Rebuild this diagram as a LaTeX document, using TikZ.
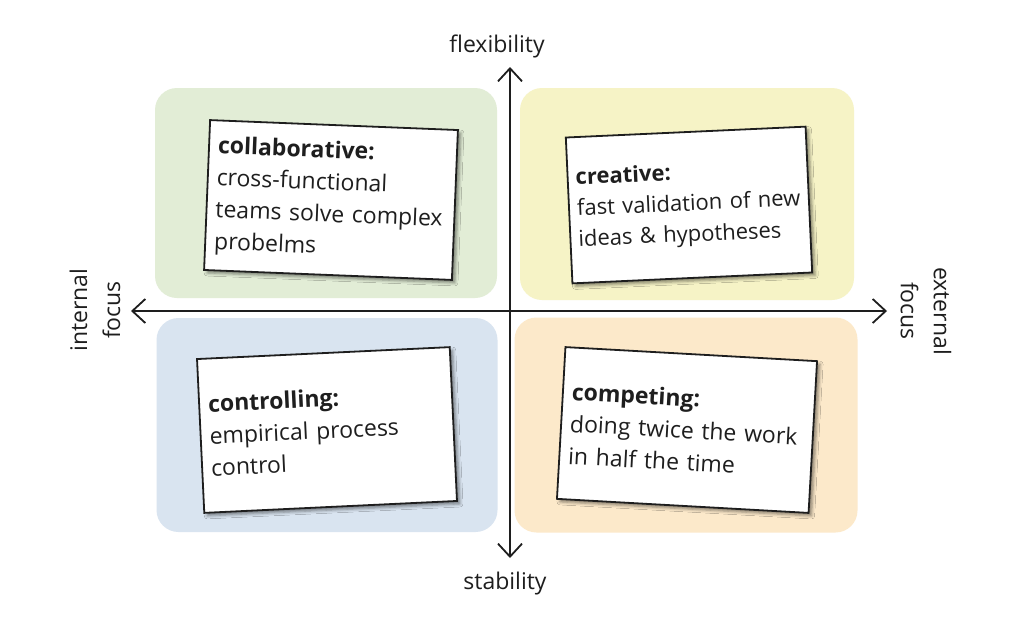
\documentclass[tikz,border=0pt]{standalone}
\usepackage{fontspec}
\setmainfont{Open Sans}
\usetikzlibrary{arrows.meta,shadows.blur}
\definecolor{qgreen}{RGB}{226,237,214}
\definecolor{qyellow}{RGB}{246,243,198}
\definecolor{qblue}{RGB}{217,228,240}
\definecolor{qorange}{RGB}{252,233,202}
\definecolor{ink}{RGB}{30,30,30}
\begin{document}
\begin{tikzpicture}[x=1pt,y=-1pt,
  quad/.style={rectangle, rounded corners=22pt, draw=none, inner sep=0pt},
  card/.style={rectangle, draw=ink, line width=1.8pt, fill=white, align=left,
    inner xsep=9pt, inner ysep=4pt, font=\fontsize{23}{32}\selectfont, text=ink,
    blur shadow={shadow xshift=3pt, shadow yshift=-3pt, shadow blur radius=3pt, shadow opacity=45}},
  axis/.style={draw=ink, line width=1.8pt,
    {Straight Barb[length=13pt,width=24pt]}-{Straight Barb[length=13pt,width=24pt]}},
  lbl/.style={font=\fontsize{23}{33}\selectfont, text=ink, align=center, inner sep=0pt}]
\useasboundingbox (0,0) rectangle (1024,624);
\fill[white] (0,0) rectangle (1024,624);

% quadrant backgrounds
\node[quad, fill=qgreen,  minimum width=342pt, minimum height=210pt] (qgr) at (326,193) {};
\node[quad, fill=qyellow, minimum width=334pt, minimum height=212pt] (qye) at (687,194) {};
\node[quad, fill=qblue,   minimum width=341pt, minimum height=214pt] (qbl) at (327,425) {};
\node[quad, fill=qorange, minimum width=343pt, minimum height=215pt] (qor) at (686,425) {};

% axes
\coordinate (top) at (510,67);
\coordinate (bottom) at (510,558);
\coordinate (left) at (131,311);
\coordinate (right) at (887,311);
\draw[axis] (bottom) -- (top);
\draw[axis] (left) -- (right);

% axis labels
\node[lbl] (flex) at (497,46) {flexibility};
\node[lbl] (stab) at (505,584) {stability};
\node[lbl, rotate=90] (intf) at (95,310) {internal\\focus};
\node[lbl, rotate=-90] (extf) at (926,311) {external\\focus};

% cards
\node[card, rotate=-2.3, text width=230pt, minimum height=150pt] (collab) at (331,200)
  {\textbf{collaborative:}\\cross-functional\\teams solve complex\\probelms};
\node[card, rotate=2.6, text width=224pt, inner xsep=8pt, minimum height=146pt,
      font=\fontsize{22}{31}\selectfont] (creat) at (689,205)
  {\textbf{creative:}\\fast validation of new\\ideas \& hypotheses};
\node[card, rotate=2.7, text width=235pt, minimum height=154pt] (contr) at (327,430)
  {\textbf{controlling:}\\empirical process\\control};
\node[card, rotate=-3.2, text width=234pt, minimum height=152pt] (compet) at (687,430)
  {\textbf{competing:}\\doing twice the work\\in half the time};
\end{tikzpicture}
\end{document}
